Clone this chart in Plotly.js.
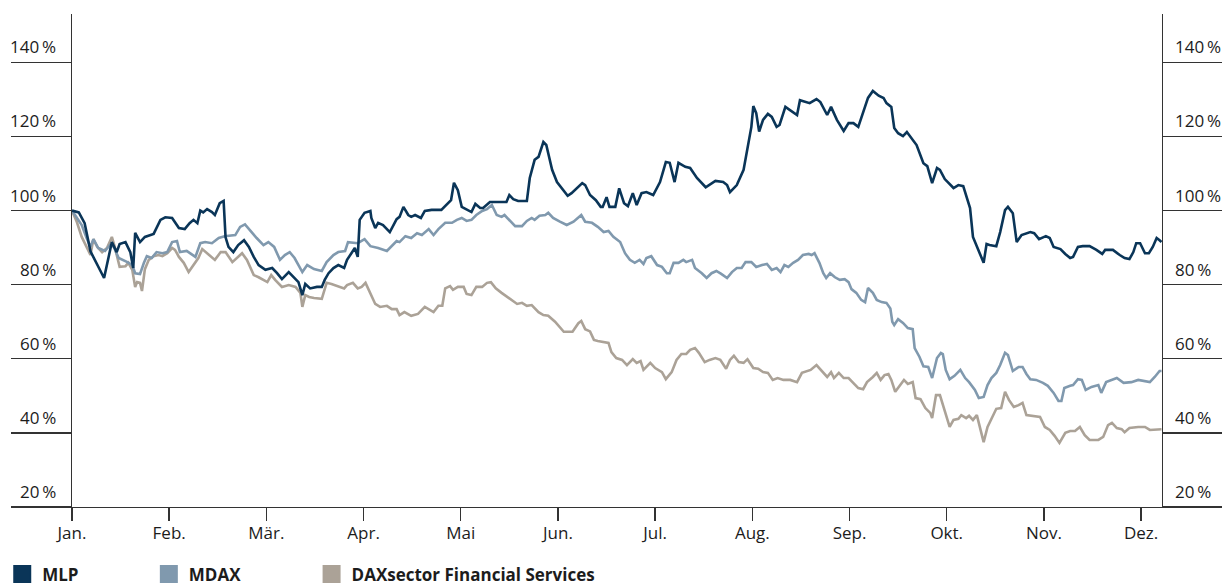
<!DOCTYPE html>
<html><head><meta charset="utf-8">
<script src="https://cdn.plot.ly/plotly-3.0.1.min.js"></script>
<style>html,body{margin:0;padding:0;background:#fff;}#chart{width:1225px;height:585px;}</style>
</head><body><div id="chart"></div>
<script>
// Month positions (equal spacing, one unit per month)
const months = ["Jan.","Feb.","Mär.","Apr.","Mai","Jun.","Jul.","Aug.","Sep.","Okt.","Nov.","Dez."];
const monthPos = [0,1,2,3,4,5,6,7,8,9,10,11];
const yTicks = [20,40,60,80,100,120,140];

// MLP (indexed, %)
const mlpX = [0,0.07,0.13,0.19,0.33,0.41,0.46,0.49,0.55,0.60,0.63,0.65,0.70,0.75,0.84,0.91,0.96,1.03,1.10,1.16,1.21,1.25,1.29,1.32,1.35,1.39,1.44,1.47,1.52,1.56,1.58,1.61,1.66,1.71,1.77,1.82,1.87,1.92,1.99,2.06,2.11,2.16,2.23,2.28,2.33,2.37,2.40,2.45,2.52,2.57,2.60,2.64,2.69,2.74,2.80,2.83,2.88,2.91,2.94,2.96,3.01,3.07,3.08,3.12,3.15,3.20,3.27,3.30,3.34,3.37,3.41,3.46,3.49,3.53,3.56,3.59,3.63,3.70,3.80,3.85,3.90,3.93,3.97,4.01,4.06,4.11,4.15,4.20,4.23,4.30,4.38,4.47,4.50,4.54,4.59,4.68,4.71,4.76,4.80,4.85,4.88,4.91,4.94,4.99,5.04,5.10,5.14,5.19,5.25,5.28,5.33,5.39,5.44,5.46,5.50,5.53,5.59,5.63,5.68,5.72,5.77,5.81,5.86,5.91,5.98,6.05,6.11,6.15,6.20,6.24,6.31,6.36,6.43,6.52,6.62,6.70,6.74,6.77,6.84,6.91,6.96,6.99,7.01,7.04,7.07,7.11,7.16,7.20,7.25,7.28,7.34,7.39,7.46,7.49,7.54,7.59,7.66,7.70,7.77,7.81,7.87,7.94,7.99,8.04,8.09,8.13,8.19,8.24,8.30,8.35,8.38,8.43,8.46,8.50,8.55,8.59,8.64,8.69,8.76,8.80,8.85,8.90,8.93,8.98,9.07,9.12,9.17,9.20,9.24,9.27,9.31,9.38,9.41,9.44,9.51,9.55,9.60,9.63,9.68,9.72,9.77,9.86,9.90,9.95,10.02,10.06,10.10,10.17,10.22,10.27,10.30,10.35,10.40,10.47,10.54,10.60,10.63,10.71,10.78,10.83,10.88,10.92,10.95,10.99,11.04,11.08,11.12,11.16,11.19,11.21];
const mlpY = [100,99.5,96.6,89,81.8,91.5,88.8,91,91.5,88.8,84.5,94,91.5,92.9,93.7,97.5,98.2,98,95.3,95,96.6,97.5,96.6,100,99.5,100.4,99.6,98.8,102,102.6,92.8,90.2,88.8,90.7,92,90.2,87.5,85.3,84,84.5,83.1,81.5,83.4,82,80.7,77.2,80.2,79,79.4,79.4,81.3,83.1,84.5,85.3,84.5,86.7,88.8,89.9,87.5,97.5,99.4,99.9,98,95.3,96.7,96.1,94.2,95.6,97.7,98.3,101,98.8,98.3,98.8,98.3,98,99.9,100.2,100.2,101.5,102.8,107.5,105.5,101,100.2,99.6,101.8,100.7,100.7,102.3,102.3,102.3,104.2,103.1,102.6,102.6,108.8,113.7,114.5,118.5,117.7,114.5,111,107.7,106,104,104.7,106,107.4,106.9,104.2,102.8,101,101,103.6,101,101,106,102,101.2,104.7,101.5,104.7,105,104.2,107.7,113.1,112.9,107.7,112.9,111.8,111.5,108.8,106.3,108,107.7,106.9,105,106.9,111,119,122.6,128.2,126.3,121.3,124.5,126.1,125.3,122.6,123.1,128,127.1,125.8,129.8,129.3,129,130.1,129.3,125.8,128,124.5,121.5,123.6,123.6,122.6,125.8,130.4,132.3,131,130.4,129,128,122.3,120.9,120.1,121.2,119.6,117.7,112.8,112,107.4,111.5,111,108.5,106.1,106.9,106.6,104.2,100.7,92.9,90.2,85.9,91,90.7,90.4,94.2,100.1,101,99.3,91.5,93.4,94.2,93.9,92.3,93.1,92.6,90.2,89.6,88.3,87.2,87.5,90.2,90.4,90.4,89.4,88.3,89.4,89.4,88,87.2,86.9,88.8,91.2,91.2,88.5,88.5,90.2,92.6,92,91.5];

// MDAX (indexed, %)
const mdaxX = [0,0.10,0.15,0.19,0.22,0.27,0.34,0.39,0.43,0.48,0.57,0.62,0.65,0.70,0.74,0.77,0.82,0.87,0.93,0.98,1.03,1.08,1.11,1.18,1.27,1.32,1.37,1.44,1.51,1.57,1.68,1.73,1.78,1.83,1.90,1.97,2.02,2.08,2.14,2.19,2.24,2.29,2.37,2.42,2.49,2.57,2.62,2.69,2.74,2.81,2.84,2.94,3.01,3.07,3.15,3.24,3.29,3.34,3.37,3.43,3.49,3.55,3.60,3.67,3.72,3.77,3.84,3.91,3.96,4.01,4.06,4.11,4.16,4.22,4.27,4.32,4.37,4.42,4.45,4.51,4.56,4.63,4.68,4.73,4.76,4.81,4.87,4.90,4.95,5.02,5.09,5.16,5.21,5.24,5.28,5.35,5.41,5.47,5.52,5.57,5.64,5.69,5.74,5.79,5.84,5.88,5.91,5.96,6.02,6.07,6.12,6.15,6.19,6.24,6.29,6.32,6.38,6.41,6.48,6.53,6.58,6.63,6.68,6.74,6.79,6.84,6.89,6.93,6.99,7.04,7.10,7.15,7.20,7.25,7.29,7.33,7.37,7.42,7.47,7.52,7.58,7.61,7.64,7.69,7.73,7.76,7.80,7.85,7.90,7.95,7.99,8.02,8.07,8.12,8.16,8.19,8.24,8.28,8.33,8.38,8.42,8.44,8.46,8.50,8.55,8.60,8.65,8.67,8.72,8.76,8.81,8.85,8.90,8.94,8.96,8.99,9.03,9.08,9.14,9.19,9.23,9.29,9.33,9.38,9.42,9.46,9.51,9.55,9.60,9.63,9.68,9.74,9.78,9.82,9.86,9.92,9.99,10.04,10.10,10.15,10.18,10.21,10.27,10.30,10.35,10.39,10.43,10.49,10.56,10.59,10.64,10.70,10.75,10.82,10.90,10.97,11.04,11.09,11.14,11.19,11.21];
const mdaxY = [100,96.1,92.6,90.2,92.3,89.9,89.1,90.7,90.2,87.2,86.1,85.3,83.1,82.9,85.9,87.7,87.2,88.8,88.5,88.8,91.5,91.8,88.8,89.1,87.5,91.2,91.5,91.2,92.6,93.1,93.4,95.6,96.3,94.7,92.6,90.7,91.5,90.2,86.7,88,88.8,87.2,83.4,85.3,84.2,83.7,86.1,88,88.8,89.1,91.5,91.2,92.3,90.4,89.9,89.1,90.4,91.8,91.5,93.1,92.6,93.9,93.4,95,93.4,95,96.7,96.7,97.5,98,97.2,97.5,98.8,99.9,100.4,101.5,98.8,98.3,98.8,97,95.8,95.8,97.2,98,97.5,98.6,98.8,99.4,98,97,96.1,97,98,98.8,97,96.7,95.6,94.2,94.5,92.9,91.5,88.5,86.7,85.9,86.7,85.6,87.2,87.7,85.3,84.8,83.1,83.1,85.9,85.9,86.7,86.1,86.7,84.5,83.1,81.8,83.1,83.7,82.9,81.8,83.4,84.5,84.5,86.1,86.1,84.8,85.3,85.6,84,84.5,83.4,85.3,84.8,85.9,86.7,88,88.3,88,88.5,85.9,83.1,81.8,83.1,82,81.3,81.5,80.7,78.8,77.8,75.9,75.3,79.1,77.8,75.9,75.3,75.1,73.6,70,69.1,70.7,69.7,68.3,68,62.9,60.5,58,57.8,54.8,60.2,61.6,61.3,57,54.5,55.4,57,54.8,53.7,51.6,49.4,49.7,52.9,54.8,56.2,58.3,61.6,61,56.7,57.8,57.8,55.9,54.5,54.3,53.5,52.7,50.8,48.6,48.6,52.1,52.7,52.9,54.5,54.3,51.6,52.4,52.9,50.8,53.7,54.3,54.8,53.5,53.7,54.3,54,53.7,55.1,56.7,56.7];

// DAXsector Financial Services (indexed, %)
const daxX = [0,0.05,0.10,0.15,0.19,0.22,0.26,0.31,0.36,0.41,0.44,0.49,0.55,0.58,0.62,0.65,0.67,0.70,0.72,0.75,0.79,0.84,0.89,0.93,0.98,1.03,1.06,1.10,1.15,1.20,1.25,1.30,1.34,1.41,1.47,1.53,1.58,1.65,1.70,1.75,1.80,1.87,1.92,1.97,2.01,2.05,2.09,2.16,2.23,2.30,2.35,2.37,2.40,2.44,2.49,2.57,2.62,2.67,2.74,2.80,2.83,2.89,2.94,2.98,3.02,3.07,3.12,3.17,3.24,3.29,3.34,3.37,3.42,3.49,3.56,3.63,3.67,3.72,3.77,3.81,3.84,3.89,3.92,3.97,4.03,4.06,4.11,4.16,4.22,4.27,4.31,4.36,4.42,4.51,4.58,4.63,4.68,4.73,4.80,4.85,4.90,4.97,5.02,5.06,5.15,5.21,5.24,5.28,5.33,5.37,5.41,5.47,5.52,5.55,5.60,5.66,5.71,5.77,5.81,5.85,5.88,5.95,6.00,6.07,6.11,6.17,6.22,6.27,6.32,6.36,6.41,6.45,6.51,6.56,6.62,6.67,6.73,6.77,6.81,6.86,6.91,6.95,7.01,7.06,7.11,7.16,7.21,7.26,7.32,7.39,7.46,7.51,7.56,7.60,7.66,7.72,7.77,7.81,7.84,7.89,7.94,7.99,8.04,8.09,8.14,8.18,8.24,8.28,8.32,8.36,8.40,8.43,8.47,8.50,8.56,8.60,8.65,8.68,8.73,8.78,8.83,8.85,8.89,8.93,8.97,9.03,9.07,9.12,9.15,9.20,9.23,9.27,9.31,9.35,9.38,9.42,9.47,9.51,9.56,9.60,9.64,9.69,9.74,9.78,9.82,9.89,9.96,10.01,10.06,10.11,10.16,10.22,10.27,10.32,10.37,10.42,10.47,10.56,10.61,10.66,10.70,10.75,10.80,10.83,10.88,10.97,11.04,11.09,11.16,11.21];
const daxY = [100,96.9,92.9,89.9,88,92.3,90.2,88.8,89.9,92.9,90.2,84.8,85,85.9,84,79.4,80.7,80.5,78.3,84.2,86.7,87.7,88,87.7,88.5,89.9,89.4,87.5,85.9,83.4,85.3,87.2,89.6,88,86.7,88.8,88.8,86.1,87.2,88.5,86.7,82.6,82,81.3,80.7,82.6,81.3,79.4,79.9,79.4,77.8,74,77.2,76.7,76.4,76.2,80.5,80.2,79.6,79,79.9,80.5,79,79.4,80.5,77.8,74.8,74,74.3,73.4,73.4,71.8,72.6,71.6,72.1,74,73.4,72.6,74.3,74.3,79,79.6,78.6,79.4,79.4,77.5,77.2,79.4,79.4,80.5,80.7,79,77.8,76.1,74.8,75.1,74.3,74.5,72.6,71.8,71.6,70,68.6,67.3,67.3,69.6,70.2,68,67.4,65.1,64.8,64.5,64.3,61.8,60.2,59.7,58.3,59.9,58.9,59.4,57,58.9,57.5,56.4,54.5,56.4,59.7,61.3,61.3,62.4,62.9,61.6,59.1,59.7,60.2,59.7,57.3,59.7,60.8,59.1,58.9,59.9,57.5,57.3,56.4,56.2,54.3,54.8,54.3,54.3,53.7,56.2,56.7,57,58.3,56.4,55.1,56.4,54.8,56.2,54.8,54.8,53.5,52.1,51.8,53.7,55.1,56.2,54.3,55.6,55.9,54.3,51.1,52.1,54.3,53.2,53.7,49.4,49.1,46.7,45.4,44,50.2,50.2,46.7,41.6,43.5,43.8,44.8,44,44.6,43.5,44.8,40.8,37.5,41.6,44.3,46.5,46.7,51.1,48.9,47,47.5,48.1,44.8,44.6,44.3,41.6,40.8,39.2,37.3,40,40.5,40.5,41.6,39.4,38.1,38.1,38.9,42.1,42.7,41.3,41,40.2,41.3,41.6,41.6,40.8,40.8,41];

const names = ["MLP","MDAX","DAXsector Financial Services"];
const colors = ["#0a3558","#8099ae","#aba297"];

const axisCol = "#333333";
const fontFam = "'Open Sans', 'Noto Sans', sans-serif";
const txtCol = "#1c1c1c";

function line(x, y, c, w) {
  return {type:"scatter", mode:"lines", x:x, y:y, showlegend:false, hoverinfo:"skip",
          line:{color:c, width:w, shape:"linear"}, xaxis:"x", yaxis:"y"};
}
const traces = [
  line(daxX, daxY, colors[2], 2.6),
  line(mdaxX, mdaxY, colors[1], 2.6),
  line(mlpX, mlpY, colors[0], 2.6)
];
const legendIds = ["legend","legend2","legend3"];
names.forEach((n, i) => {
  traces.push({type:"scatter", mode:"markers", x:[null], y:[null], name:n, legend:legendIds[i],
    yaxis: i === 2 ? "y2" : "y",
    marker:{symbol:"square", size:16, color:colors[i], line:{color:colors[i], width:2}}, showlegend:true});
});

const yRange = [20, 153.06];
const xRange = [0, 11.215];

const annotations = [];
yTicks.forEach(v => {
  const t = v + "\u2009%";
  annotations.push({xref:"paper", yref:"y", x:0, y:v, xshift:-14, xanchor:"right", yanchor:"bottom", yshift:2,
    text:t, showarrow:false, font:{family:fontFam, size:17, color:txtCol}});
  annotations.push({xref:"paper", yref:"y", x:1, y:v, xshift:11, xanchor:"left", yanchor:"bottom", yshift:2,
    text:t, showarrow:false, font:{family:fontFam, size:17, color:txtCol}});
});

const legBase = {orientation:"h", yanchor:"middle", y:-0.137, xanchor:"left", bgcolor:"rgba(0,0,0,0)",
  borderwidth:0, font:{family:fontFam, size:17, color:txtCol, weight:"bold"}};

const layout = {
  width:1225, height:585,
  margin:{l:72, r:63, t:14, b:78, autoexpand:false},
  paper_bgcolor:"#fff", plot_bgcolor:"#fff",
  font:{family:fontFam, size:17, color:txtCol},
  xaxis:{range:xRange, tickvals:monthPos, ticktext:months, ticks:"outside", ticklen:13, tickwidth:1.4,
    tickcolor:axisCol, showline:true, linecolor:axisCol, linewidth:1.4, showgrid:false, zeroline:false,
    ticklabelstandoff:-3,
    tickfont:{family:fontFam, size:17, color:txtCol}, fixedrange:true},
  yaxis:{range:yRange, tickvals:yTicks, ticks:"outside", ticklen:60, tickwidth:1.4, tickcolor:axisCol,
    showticklabels:false, showline:true, linecolor:axisCol, linewidth:1.4, showgrid:false, zeroline:false, fixedrange:true},
  yaxis2:{range:yRange, overlaying:"y", side:"right", tickvals:yTicks, ticks:"outside", ticklen:59, tickwidth:1.4,
    tickcolor:axisCol, showticklabels:false, showline:true, linecolor:axisCol, linewidth:1.4, showgrid:false,
    zeroline:false, fixedrange:true},
  legend:Object.assign({}, legBase, {x:-0.064}),
  legend2:Object.assign({}, legBase, {x:0.0705}),
  legend3:Object.assign({}, legBase, {x:0.2198}),
  annotations:annotations,
  showlegend:true
};

Plotly.newPlot("chart", traces, layout, {staticPlot:true, displayModeBar:false});
</script></body></html>
